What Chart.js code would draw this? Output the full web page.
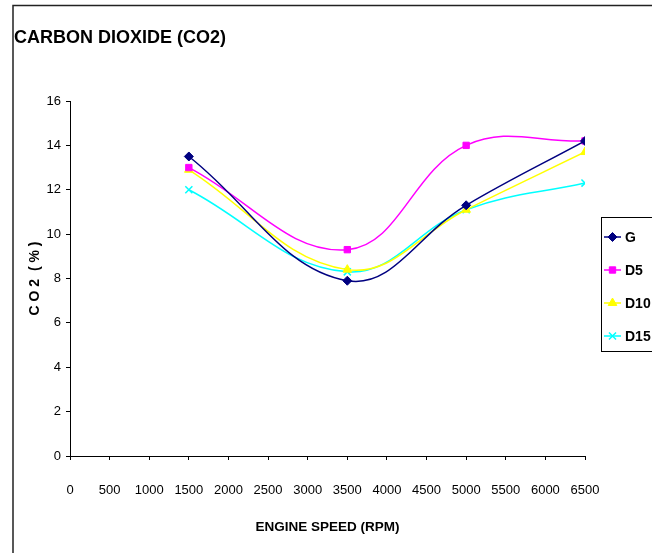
<!DOCTYPE html>
<html>
<head>
<meta charset="utf-8">
<script src="https://cdn.jsdelivr.net/npm/chart.js@4"></script>
<style>
  html, body { margin: 0; padding: 0; background: #fff; }
  #wrap { width: 652px; height: 553px; position: relative; }
</style>
</head>
<body>
<div id="wrap"><canvas id="c" width="652" height="553"></canvas></div>
<script>
const speeds = [1500, 3500, 5000, 6500];
const seriesNames = ['G', 'D5', 'D10', 'D15'];
const gValues = [13.5, 7.9, 11.3, 14.2];
const d5Values = [13.0, 9.3, 14.0, 14.2];
const d10Values = [12.9, 8.4, 11.1, 13.7];
const d15Values = [12.0, 8.3, 11.1, 12.3];
const xTicks = [0, 500, 1000, 1500, 2000, 2500, 3000, 3500, 4000, 4500, 5000, 5500, 6000, 6500];
const yTicks = [0, 2, 4, 6, 8, 10, 12, 14, 16];

const FONT = "'Liberation Sans', Arial, sans-serif";
const colors = ['#000080', '#FF00FF', '#FFFF00', '#00FFFF'];
const styles = ['rectRot', 'rect', 'triangle', 'crossRot'];
const radii = [4.5, 4.5, 5, 5];
const allValues = [gValues, d5Values, d10Values, d15Values];

const datasets = seriesNames.map((name, i) => ({
  label: name,
  data: speeds.map((s, j) => ({ x: s, y: allValues[i][j] })),
  borderColor: colors[i],
  backgroundColor: colors[i],
  borderWidth: 1.5,
  pointStyle: styles[i],
  pointRadius: radii[i],
  pointBorderWidth: i === 3 ? 1.5 : 1,
  tension: 0.4,
  fill: false
}));

const framePlugin = {
  id: 'framePlugin',
  beforeDraw(chart) {
    const ctx = chart.ctx;
    ctx.save();
    ctx.fillStyle = '#fff';
    ctx.fillRect(0, 0, chart.width, chart.height);
    ctx.restore();
  },
  afterDraw(chart) {
    const ctx = chart.ctx;
    ctx.save();
    ctx.strokeStyle = '#222';
    ctx.lineWidth = 1.5;
    ctx.strokeRect(13, 5.5, 2000, 2000);
    // legend box
    ctx.lineWidth = 1;
    ctx.strokeStyle = '#000';
    ctx.strokeRect(601.5, 217.5, 200, 134);
    const rowY0 = 237, step = 33;
    chart.data.datasets.forEach((ds, i) => {
      const y = rowY0 + i * step;
      ctx.strokeStyle = ds.borderColor;
      ctx.fillStyle = ds.backgroundColor;
      ctx.lineWidth = 1.5;
      ctx.beginPath();
      ctx.moveTo(604, y);
      ctx.lineTo(621, y);
      ctx.stroke();
      ctx.lineWidth = ds.pointBorderWidth;
      Chart.helpers.drawPoint(ctx, {
        pointStyle: ds.pointStyle, radius: ds.pointRadius, borderWidth: ds.pointBorderWidth, rotation: 0
      }, 612.5, y);
      ctx.fillStyle = '#000';
      ctx.font = "bold 14px " + FONT;
      ctx.textBaseline = 'middle';
      ctx.textAlign = 'left';
      ctx.fillText(ds.label, 625, y + 1);
    });
    ctx.restore();
  }
};

new Chart(document.getElementById('c'), {
  type: 'line',
  data: { datasets },
  options: {
    responsive: false,
    animation: false,
    devicePixelRatio: 1,
    layout: { padding: { left: 14, right: 67, top: 0, bottom: 0 } },
    plugins: {
      legend: { display: false },
      tooltip: { enabled: false },
      title: {
        display: true,
        text: 'CARBON DIOXIDE (CO2)',
        align: 'start',
        color: '#000',
        font: { family: FONT, size: 18, weight: 'bold' },
        padding: { top: 27, bottom: 52.4 }
      }
    },
    scales: {
      x: {
        type: 'linear',
        min: 0, max: 6500,
        afterFit(scale) { scale.height = 97; },
        afterBuildTicks(scale) { scale.ticks = xTicks.map(v => ({ value: v })); },
        grid: { display: true, drawOnChartArea: false, drawTicks: true, tickLength: 4, color: '#000' },
        border: { display: true, color: '#000', width: 1 },
        ticks: { color: '#000', padding: 23, maxRotation: 0, autoSkip: false, font: { family: FONT, size: 13 }, callback: v => String(v) },
        title: { display: true, text: 'ENGINE SPEED (RPM)', color: '#000', font: { family: FONT, size: 13.5, weight: 'bold' }, padding: { top: 0, bottom: 18 } }
      },
      y: {
        type: 'linear',
        min: 0, max: 16,
        afterFit(scale) { scale.width = 56; },
        afterBuildTicks(scale) { scale.ticks = yTicks.map(v => ({ value: v })); },
        grid: { display: true, drawOnChartArea: false, drawTicks: true, tickLength: 4, color: '#000' },
        border: { display: true, color: '#000', width: 1 },
        ticks: { color: '#000', padding: 5, font: { family: FONT, size: 13 }, callback: v => String(v) },
        title: { display: true, text: 'C O 2  ( % )', color: '#000', font: { family: FONT, size: 14, weight: 'bold' }, padding: { top: 13, bottom: 0 } }
      }
    }
  },
  plugins: [framePlugin]
});
</script>
</body>
</html>
